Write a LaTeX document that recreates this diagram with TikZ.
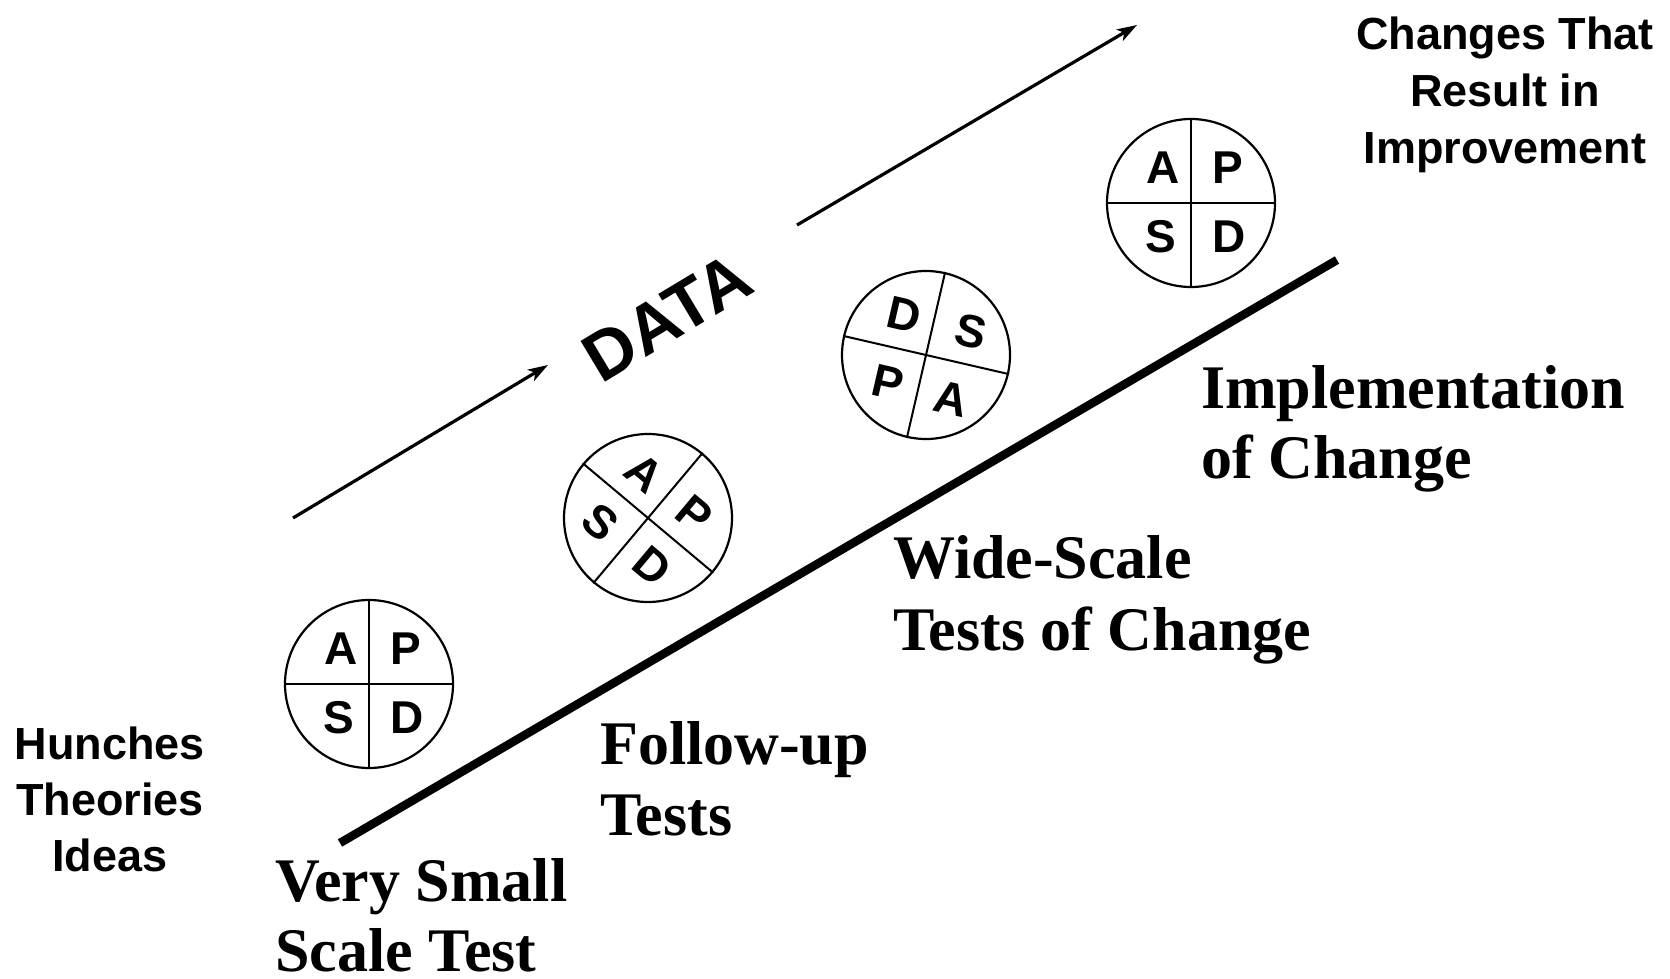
\documentclass[tikz,border=0pt]{standalone}
\usepackage{fontspec}
\setmainfont{Liberation Serif}
\newfontfamily\arial{Liberation Sans}
\usetikzlibrary{arrows.meta}

\begin{document}
\begin{tikzpicture}[x=1pt,y=1pt,
  cycle/.style={circle,draw,line width=2.2pt,minimum size=168pt,inner sep=0pt},
  divider/.style={line width=2pt},
  letter/.style={font=\arial\bfseries\fontsize{46}{46}\selectfont,inner sep=0pt},
  flow/.style={line width=3.2pt,-{Stealth[length=20pt,width=13pt,inset=5pt]}},
  ramp/.style={line width=8.5pt},
  stage/.style={font=\bfseries\fontsize{62}{62}\selectfont,anchor=base west,inner sep=0pt},
  note/.style={font=\arial\bfseries\fontsize{45}{45}\selectfont,anchor=base,inner sep=0pt}]

\useasboundingbox (0,0) rectangle (1670,-979);

% rising ramp of change
\coordinate (r1) at (340,-843);
\coordinate (r2) at (1337,-260);
\draw[ramp] (r1) -- (r2);

% data arrows
\coordinate (d1s) at (293,-518);
\coordinate (d1e) at (548,-365);
\coordinate (d2s) at (797,-225);
\coordinate (d2e) at (1137,-25);
\draw[flow] (d1s) -- (d1e);
\draw[flow] (d2s) -- (d2e);
\node[font=\arial\bfseries\fontsize{69}{69}\selectfont,rotate=31,inner sep=0pt] (data) at (667,-317) {DATA};

% cycle 1
\node[cycle] (c1) at (369,-684) {};
\draw[divider] (c1.north) -- (c1.south);
\draw[divider] (c1.west) -- (c1.east);
\node[letter] (c1a) at ([shift={(-28,35)}]c1.center) {A};
\node[letter] (c1p) at ([shift={(37,35)}]c1.center) {P};
\node[letter] (c1s) at ([shift={(-30,-34)}]c1.center) {S};
\node[letter] (c1d) at ([shift={(38,-34)}]c1.center) {D};

% cycle 2
\node[cycle] (c2) at (648,-518) {};
\draw[divider] (c2.50) -- (c2.230);
\draw[divider] (c2.140) -- (c2.320);
\node[letter,rotate=-40] (c2a) at ([shift={(95:45)}]c2.center) {A};
\node[letter,rotate=-40] (c2p) at ([shift={(5:47)}]c2.center) {P};
\node[letter,rotate=-40] (c2s) at ([shift={(185:48)}]c2.center) {S};
\node[letter,rotate=-40] (c2d) at ([shift={(-85:48)}]c2.center) {D};

% cycle 3
\node[cycle] (c3) at (926,-355) {};
\draw[divider] (c3.77) -- (c3.257);
\draw[divider] (c3.-13) -- (c3.167);
\node[letter,rotate=-13] (c3d) at ([shift={(118:46)}]c3.center) {D};
\node[letter,rotate=-13] (c3s) at ([shift={(28:51)}]c3.center) {S};
\node[letter,rotate=-13] (c3p) at ([shift={(216:47)}]c3.center) {P};
\node[letter,rotate=-13] (c3a) at ([shift={(-60:51)}]c3.center) {A};

% cycle 4
\node[cycle] (c4) at (1191,-203) {};
\draw[divider] (c4.north) -- (c4.south);
\draw[divider] (c4.west) -- (c4.east);
\node[letter] (c4a) at ([shift={(-28,35)}]c4.center) {A};
\node[letter] (c4p) at ([shift={(37,35)}]c4.center) {P};
\node[letter] (c4s) at ([shift={(-30,-34)}]c4.center) {S};
\node[letter] (c4d) at ([shift={(38,-34)}]c4.center) {D};

% stage labels
\node[stage] (vs1) at (275,-901) {Very Small};
\node[stage] (vs2) at (275,-971) {Scale Test};
\node[stage] (fu1) at (600,-764) {Follow-up};
\node[stage] (fu2) at (600,-835) {Tests};
\node[stage] (ws1) at (893,-578) {Wide-Scale};
\node[stage] (ws2) at (893,-650) {Tests of Change};
\node[stage] (im1) at (1201,-408) {Implementation};
\node[stage] (im2) at (1201,-478) {of Change};

% start and end notes
\node[note] (h1) at (110,-759) {Hunches};
\node[note] (h2) at (110,-815) {Theories};
\node[note] (h3) at (110,-871) {Ideas};
\node[note] (ct1) at (1505,-50) {Changes That};
\node[note] (ct2) at (1505,-107) {Result in};
\node[note] (ct3) at (1505,-164) {Improvement};
\end{tikzpicture}
\end{document}
